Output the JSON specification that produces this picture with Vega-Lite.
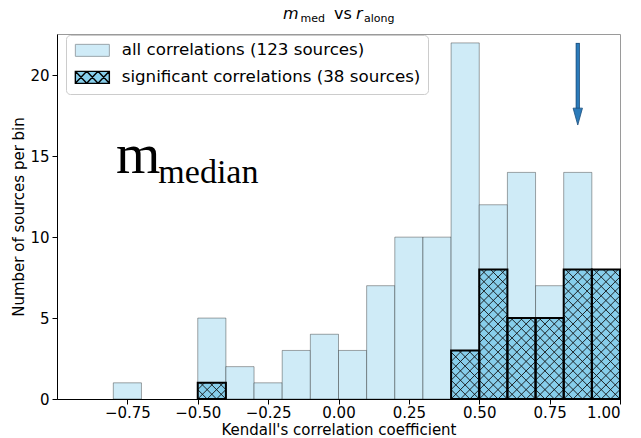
{
  "$schema": "https://vega.github.io/schema/vega-lite/v6.json",
  "width": 563,
  "height": 365,
  "autosize": {"type": "none"},
  "padding": {"left": 57, "top": 34, "right": 21, "bottom": 39},
  "background": "white",
  "config": {
    "font": "DejaVu Sans",
    "view": {"stroke": "#9a9a9a", "strokeWidth": 1},
    "axis": {
      "labelFont": "DejaVu Sans", "labelFontSize": 15, "labelColor": "#000",
      "titleFont": "DejaVu Sans", "titleFontSize": 15, "titleFontWeight": "normal", "titleColor": "#000",
      "tickColor": "#000", "tickSize": 5, "domainColor": "#000", "grid": false
    },
    "legend": {
      "orient": "none", "legendX": 9, "legendY": 1, "title": null,
      "symbolType": "M-2.833,-1H2.833V1H-2.833Z", "symbolSize": 144, "symbolOffset": 11,
      "symbolStrokeColor": "#9aa5ab", "symbolStrokeWidth": 1,
      "labelOffset": 21, "labelFont": "DejaVu Sans", "labelFontSize": 16.7, "labelColor": "#000", "labelLimit": 420,
      "rowPadding": 8, "padding": 7, "fillColor": "white", "strokeColor": "#cccccc", "cornerRadius": 4
    }
  },
  "data": {
    "values": [
      {"lo": -0.8, "hi": -0.7, "all": 1, "sig": 0},
      {"lo": -0.5, "hi": -0.4, "all": 5, "sig": 1},
      {"lo": -0.4, "hi": -0.3, "all": 2, "sig": 0},
      {"lo": -0.3, "hi": -0.2, "all": 1, "sig": 0},
      {"lo": -0.2, "hi": -0.1, "all": 3, "sig": 0},
      {"lo": -0.1, "hi": 0.0, "all": 4, "sig": 0},
      {"lo": 0.0, "hi": 0.1, "all": 3, "sig": 0},
      {"lo": 0.1, "hi": 0.2, "all": 7, "sig": 0},
      {"lo": 0.2, "hi": 0.3, "all": 10, "sig": 0},
      {"lo": 0.3, "hi": 0.4, "all": 10, "sig": 0},
      {"lo": 0.4, "hi": 0.5, "all": 22, "sig": 3},
      {"lo": 0.5, "hi": 0.6, "all": 12, "sig": 8},
      {"lo": 0.6, "hi": 0.7, "all": 14, "sig": 5},
      {"lo": 0.7, "hi": 0.8, "all": 7, "sig": 5},
      {"lo": 0.8, "hi": 0.9, "all": 14, "sig": 8},
      {"lo": 0.9, "hi": 1.0, "all": 8, "sig": 8}
    ]
  },
  "layer": [
    {
      "mark": {"type": "bar", "stroke": "#000", "strokeOpacity": 0.35, "strokeWidth": 1},
      "encoding": {
        "x": {"field": "lo", "type": "quantitative", "title": "Kendall's correlation coefficient",
              "scale": {"domain": [-1, 1], "nice": false, "zero": false},
              "axis": {"values": [-0.75, -0.5, -0.25, 0, 0.25, 0.5, 0.75, 1], "format": ".2f", "labelPadding": 1, "titlePadding": 2}},
        "x2": {"field": "hi"},
        "y": {"field": "all", "type": "quantitative", "title": "Number of sources per bin",
              "scale": {"domain": [0, 22.55], "nice": false},
              "axis": {"values": [0, 5, 10, 15, 20], "format": "d", "labelPadding": 3, "titlePadding": 3}},
        "y2": {"datum": 0},
        "color": {"datum": "all correlations (123 sources)", "type": "nominal",
                  "scale": {"domain": ["all correlations (123 sources)", "significant correlations (38 sources)"],
                            "range": ["#cfebf7", "#87ceeb"]},
                  "legend": {
                    "encode": {"symbols": {"update": {
                      "shape": {"signal": "datum.value === 'significant correlations (38 sources)' ? 'M-2.833,-1H2.833V1H-2.833ZM-2.833,-1L-0.944,1M-2.833,1L-0.944,-1M-0.944,-1L0.944,1M-0.944,1L0.944,-1M0.944,-1L2.833,1M0.944,1L2.833,-1' : 'M-2.833,-1H2.833V1H-2.833Z'"},
                      "stroke": {"signal": "datum.value === 'significant correlations (38 sources)' ? '#000' : '#9aa5ab'"},
                      "strokeWidth": {"signal": "datum.value === 'significant correlations (38 sources)' ? 1.4 : 1"}
                    }}}
                  }}
      }
    },
    {
      "transform": [{"filter": "datum.sig > 0"}],
      "mark": {"type": "bar", "strokeWidth": 0},
      "encoding": {
        "x": {"field": "lo", "type": "quantitative", "title": "Kendall's correlation coefficient"},
        "x2": {"field": "hi"},
        "y": {"field": "sig", "type": "quantitative", "title": "Number of sources per bin"},
        "y2": {"datum": 0},
        "color": {"datum": "significant correlations (38 sources)", "type": "nominal"}
      }
    },
    {
      "transform": [{"filter": "datum.sig > 0"}],
      "mark": {"type": "point", "filled": false, "color": "#111", "stroke": "#111", "strokeWidth": 0.9, "opacity": 1, "size": 4},
      "encoding": {
        "x": {"field": "lo", "type": "quantitative", "title": "Kendall's correlation coefficient"},
        "y": {"datum": 0, "type": "quantitative"},
        "shape": {"field": "sig", "type": "ordinal", "legend": null,
                  "scale": {"domain": [1, 3, 5, 8], "range": [
                    "M0,-9.4L9.4,0M2.6,-16.2L18.8,0M12,-16.2L28.1,0M21.3,-16.2L28.1,-9.4M0,-9.4L6.8,-16.2M0,0L16.2,-16.2M9.4,0L25.6,-16.2M18.8,0L28.1,-9.4",
                    "M0,-9.4L9.4,0M0,-18.8L18.8,0M0,-28.1L28.1,0M0,-37.5L28.1,-9.4M0,-46.9L28.1,-18.8M7.7,-48.6L28.1,-28.1M17.1,-48.6L28.1,-37.5M26.5,-48.6L28.1,-46.9M0,-46.9L1.6,-48.6M0,-37.5L11,-48.6M0,-28.1L20.4,-48.6M0,-18.8L28.1,-46.9M0,-9.4L28.1,-37.5M0,0L28.1,-28.1M9.4,0L28.1,-18.8M18.8,0L28.1,-9.4",
                    "M0,-9.4L9.4,0M0,-18.8L18.8,0M0,-28.1L28.1,0M0,-37.5L28.1,-9.4M0,-46.9L28.1,-18.8M0,-56.3L28.1,-28.1M0,-65.7L28.1,-37.5M0,-75.1L28.1,-46.9M3.5,-80.9L28.1,-56.3M12.9,-80.9L28.1,-65.7M22.3,-80.9L28.1,-75.1M0,-75.1L5.9,-80.9M0,-65.7L15.3,-80.9M0,-56.3L24.6,-80.9M0,-46.9L28.1,-75.1M0,-37.5L28.1,-65.7M0,-28.1L28.1,-56.3M0,-18.8L28.1,-46.9M0,-9.4L28.1,-37.5M0,0L28.1,-28.1M9.4,0L28.1,-18.8M18.8,0L28.1,-9.4",
                    "M0,-9.4L9.4,0M0,-18.8L18.8,0M0,-28.1L28.1,0M0,-37.5L28.1,-9.4M0,-46.9L28.1,-18.8M0,-56.3L28.1,-28.1M0,-65.7L28.1,-37.5M0,-75.1L28.1,-46.9M0,-84.4L28.1,-56.3M0,-93.8L28.1,-65.7M0,-103.2L28.1,-75.1M0,-112.6L28.1,-84.4M0,-122L28.1,-93.8M1.9,-129.5L28.1,-103.2M11.3,-129.5L28.1,-112.6M20.6,-129.5L28.1,-122M0,-122L7.5,-129.5M0,-112.6L16.9,-129.5M0,-103.2L26.3,-129.5M0,-93.8L28.1,-122M0,-84.4L28.1,-112.6M0,-75.1L28.1,-103.2M0,-65.7L28.1,-93.8M0,-56.3L28.1,-84.4M0,-46.9L28.1,-75.1M0,-37.5L28.1,-65.7M0,-28.1L28.1,-56.3M0,-18.8L28.1,-46.9M0,-9.4L28.1,-37.5M0,0L28.1,-28.1M9.4,0L28.1,-18.8M18.8,0L28.1,-9.4"
                  ]}}
      }
    },
    {
      "transform": [{"filter": "datum.sig > 0"}],
      "mark": {"type": "bar", "fillOpacity": 0, "stroke": "#000", "strokeWidth": 2},
      "encoding": {
        "x": {"field": "lo", "type": "quantitative", "title": "Kendall's correlation coefficient"},
        "x2": {"field": "hi"},
        "y": {"field": "sig", "type": "quantitative", "title": "Number of sources per bin"},
        "y2": {"datum": 0}
      }
    },
    {
      "data": {"values": [{}]},
      "mark": {"type": "rule", "stroke": "#1d4f7c", "strokeWidth": 4.2},
      "encoding": {"x": {"datum": 0.85, "type": "quantitative"}, "y": {"datum": 22, "type": "quantitative"}, "y2": {"datum": 17.9}}
    },
    {
      "data": {"values": [{}]},
      "mark": {"type": "rule", "stroke": "#2b7bba", "strokeWidth": 2.6},
      "encoding": {"x": {"datum": 0.85, "type": "quantitative"}, "y": {"datum": 21.95, "type": "quantitative"}, "y2": {"datum": 17.9}}
    },
    {
      "data": {"values": [{}]},
      "mark": {"type": "point", "shape": "M-1,0L1,0L0,3.6Z", "size": 88, "filled": true, "fill": "#2b7bba", "stroke": "#1d4f7c", "strokeWidth": 0.8, "opacity": 1},
      "encoding": {"x": {"datum": 0.85, "type": "quantitative"}, "y": {"datum": 17.97, "type": "quantitative"}}
    },
    {
      "data": {"values": [{}]},
      "mark": {"type": "text", "text": "m", "font": "Liberation Serif", "fontSize": 57, "fontWeight": "normal", "align": "left", "baseline": "alphabetic", "color": "#000"},
      "encoding": {"x": {"datum": -0.79, "type": "quantitative"}, "y": {"datum": 13.96, "type": "quantitative"}}
    },
    {
      "data": {"values": [{}]},
      "mark": {"type": "text", "text": "median", "font": "Liberation Serif", "fontSize": 34, "fontWeight": "normal", "align": "left", "baseline": "alphabetic", "color": "#000"},
      "encoding": {"x": {"datum": -0.64, "type": "quantitative"}, "y": {"datum": 13.34, "type": "quantitative"}}
    },
    {
      "data": {"values": [{}]},
      "mark": {"type": "text", "text": "m", "fontSize": 16, "fontStyle": "italic", "fontWeight": "normal", "align": "left", "baseline": "alphabetic", "color": "#000", "dx": -55.5},
      "encoding": {"x": {"datum": 0, "type": "quantitative"}, "y": {"datum": 23.48, "type": "quantitative"}}
    },
    {
      "data": {"values": [{}]},
      "mark": {"type": "text", "text": "med", "fontSize": 11, "fontWeight": "normal", "align": "left", "baseline": "alphabetic", "color": "#000", "dx": -38},
      "encoding": {"x": {"datum": 0, "type": "quantitative"}, "y": {"datum": 23.29, "type": "quantitative"}}
    },
    {
      "data": {"values": [{}]},
      "mark": {"type": "text", "text": "vs", "fontSize": 16, "fontWeight": "normal", "align": "left", "baseline": "alphabetic", "color": "#000", "dx": -4.5},
      "encoding": {"x": {"datum": 0, "type": "quantitative"}, "y": {"datum": 23.48, "type": "quantitative"}}
    },
    {
      "data": {"values": [{}]},
      "mark": {"type": "text", "text": "r", "fontSize": 16, "fontStyle": "italic", "fontWeight": "normal", "align": "left", "baseline": "alphabetic", "color": "#000", "dx": 17.5},
      "encoding": {"x": {"datum": 0, "type": "quantitative"}, "y": {"datum": 23.48, "type": "quantitative"}}
    },
    {
      "data": {"values": [{}]},
      "mark": {"type": "text", "text": "along", "fontSize": 11, "fontWeight": "normal", "align": "left", "baseline": "alphabetic", "color": "#000", "dx": 25.5},
      "encoding": {"x": {"datum": 0, "type": "quantitative"}, "y": {"datum": 23.29, "type": "quantitative"}}
    }
  ]
}
